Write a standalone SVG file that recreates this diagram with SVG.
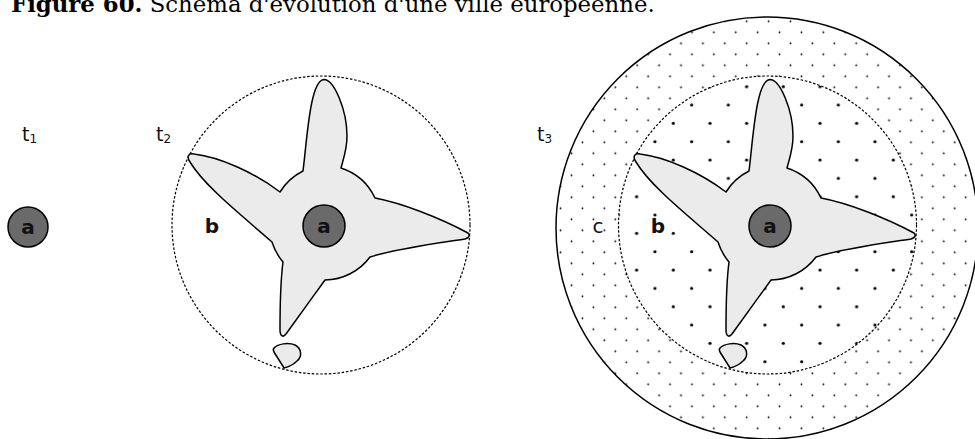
<svg xmlns="http://www.w3.org/2000/svg" xmlns:xlink="http://www.w3.org/1999/xlink" width="975" height="439" viewBox="0 0 975 439">
<style>
.t{font-family:"DejaVu Sans","Liberation Sans",sans-serif;font-size:19px;fill:#111}
.sub{font-size:12px}
.lbl{font-family:"DejaVu Sans","Liberation Sans",sans-serif;font-size:20px;fill:#111;text-anchor:middle}
.bold{font-weight:bold}
.hub{fill:#6a6a6a;stroke:#000;stroke-width:1.5}
.city{fill:#ebebeb;stroke:#000;stroke-width:1.5;stroke-linejoin:round}
.dash{fill:none;stroke:#000;stroke-width:1.2;stroke-dasharray:2.5,1.8}
.outer{fill:none;stroke:#000;stroke-width:1.5}
.title{font-family:"DejaVu Serif","Liberation Serif",serif;font-size:22.8px;fill:#000}
</style>
<defs>
<pattern id="bigdots" patternUnits="userSpaceOnUse" x="700.83" y="114.17" width="36.67" height="36.67">
<circle cx="9.17" cy="9.17" r="1.6" fill="#000"/>
<circle cx="27.5" cy="27.5" r="1.6" fill="#000"/>
</pattern>
<pattern id="smalldots" patternUnits="userSpaceOnUse" x="675.52" y="37.8" width="21.9" height="22">
<circle cx="5.48" cy="5.5" r="0.9" fill="#000"/>
<circle cx="16.43" cy="16.5" r="0.9" fill="#000"/>
</pattern>
<path id="cityShape" d="M 324,79.5 C 334,79.5 347,110 347,136 C 347,150 343,160 341,168 A 57 57 0 0 1 375,198 C 402,203 440,218 468,233 C 471,236 468,238 465,239 C 440,243 400,248 370,257 A 57 57 0 0 1 325,280 C 312,298 296,320 286,334 C 283,338 280,336 280,330 C 280,310 280,285 283,262 A 57 57 0 0 1 272,242 C 245,218 205,187 190,162 C 186,156 189,153 194,154 C 220,157 255,173 280,192 A 57 57 0 0 1 303,171 C 307,140 310,80 324,79.5 Z"/>
<path id="blob" d="M 274,348 C 278,344 288,342 295,345 C 301,348 303,356 297,361 C 293,365 288,367 284,368 C 281,363 277,357 274,352 C 273,350 273,349 274,348 Z"/>
</defs>

<text class="title" x="11" y="12"><tspan font-weight="bold">Figure 60.</tspan> Schéma d'évolution d'une ville européenne.</text>

<g id="t1">
<text class="t" x="22" y="141">t<tspan class="sub" dy="2">1</tspan></text>
<g id="a1">
<circle class="hub" cx="28" cy="227" r="20"/>
<text class="lbl bold" x="28" y="234">a</text>
</g>
</g>

<g id="t2">
<text class="t" x="156" y="141">t<tspan class="sub" dy="2">2</tspan></text>
<g id="zone-b2">
<circle class="dash" cx="321" cy="225" r="149"/>
</g>
<g id="city2">
<use xlink:href="#cityShape" class="city"/>
<use xlink:href="#blob" class="city"/>
</g>
<g id="a2">
<circle class="hub" cx="324" cy="226" r="21"/>
<text class="lbl bold" x="324" y="233">a</text>
</g>
<text class="lbl bold" x="212" y="233">b</text>
</g>

<g id="t3">
<text class="t" x="537" y="141">t<tspan class="sub" dy="2">3</tspan></text>
<g id="zone-c3">
<path d="M 556,228 a 211,211 0 1,0 422,0 a 211,211 0 1,0 -422,0 Z M 618.5,225 a 149,149 0 1,0 298,0 a 149,149 0 1,0 -298,0 Z" fill="url(#smalldots)" fill-rule="evenodd"/>
<circle class="outer" cx="767" cy="228" r="211"/>
</g>
<g id="zone-b3">
<circle cx="767.5" cy="225" r="149" fill="url(#bigdots)"/>
<circle class="dash" cx="767.5" cy="225" r="149"/>
</g>
<g id="city3" transform="translate(446,0)">
<use xlink:href="#cityShape" class="city"/>
<use xlink:href="#blob" class="city"/>
</g>
<g id="a3">
<circle class="hub" cx="770" cy="226" r="21"/>
<text class="lbl bold" x="770" y="233">a</text>
</g>
<text class="lbl" x="598" y="233">c</text>
<text class="lbl bold" x="658" y="233">b</text>
</g>
</svg>
